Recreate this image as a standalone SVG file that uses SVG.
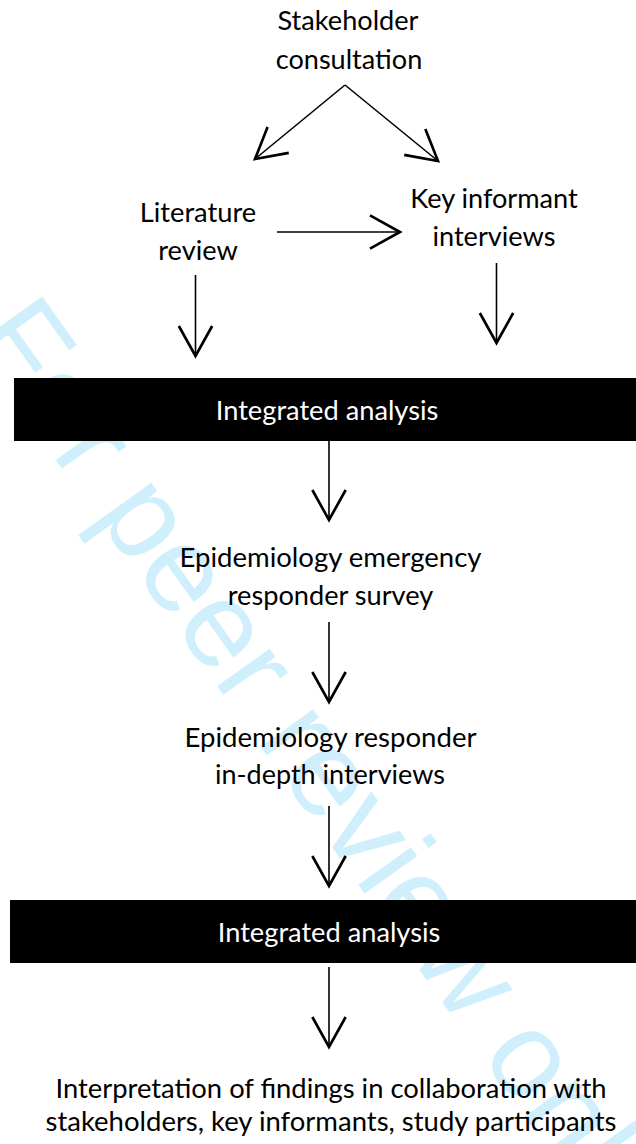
<svg xmlns="http://www.w3.org/2000/svg" width="636" height="1144" viewBox="0 0 636 1144">
<style>
.t{font-family:Lato,"Open Sans","DejaVu Sans",sans-serif;font-size:26.5px;fill:#000;text-anchor:middle}
.w{fill:#fff}
.c line{stroke:#000;stroke-width:1.6;fill:none;marker-end:url(#ah)}
.wm{font-family:"Liberation Sans",Arial,sans-serif;font-size:122px;fill:#d0effc}
</style>
<defs>
<marker id="ah" markerUnits="userSpaceOnUse" markerWidth="40" markerHeight="40" viewBox="-20 -12 22 24" refX="0" refY="0" orient="auto" overflow="visible">
<path d="M-18,-10 L0,0 L-18,10" fill="none" stroke="#000" stroke-width="1.6"/>
</marker>
</defs>
<rect width="636" height="1144" fill="#fff"/>
<text class="wm" transform="translate(-32,337) rotate(54.5)">For peer review only</text>
<g id="stakeholder">
<text class="t" x="348" y="29.5" textLength="141" lengthAdjust="spacingAndGlyphs">Stakeholder</text>
<text class="t" x="349" y="69" textLength="146.5" lengthAdjust="spacingAndGlyphs">consultation</text>
</g>
<g id="literature">
<text class="t" x="198" y="221.5" textLength="116.5" lengthAdjust="spacingAndGlyphs">Literature</text>
<text class="t" x="198" y="260" textLength="79.5" lengthAdjust="spacingAndGlyphs">review</text>
</g>
<g id="keyinformant">
<text class="t" x="494" y="208" textLength="167.5" lengthAdjust="spacingAndGlyphs">Key informant</text>
<text class="t" x="494" y="246" textLength="123" lengthAdjust="spacingAndGlyphs">interviews</text>
</g>
<g id="analysis1">
<rect x="14" y="378" width="622" height="63" fill="#000"/>
<text class="t w" x="327" y="420" textLength="222.5" lengthAdjust="spacingAndGlyphs">Integrated analysis</text>
</g>
<g id="survey">
<text class="t" x="330.5" y="567" textLength="302" lengthAdjust="spacingAndGlyphs">Epidemiology emergency</text>
<text class="t" x="330.5" y="605" textLength="205.5" lengthAdjust="spacingAndGlyphs">responder survey</text>
</g>
<g id="interviews">
<text class="t" x="330.5" y="747" textLength="292" lengthAdjust="spacingAndGlyphs">Epidemiology responder</text>
<text class="t" x="330" y="784" textLength="230" lengthAdjust="spacingAndGlyphs">in-depth interviews</text>
</g>
<g id="analysis2">
<rect x="10" y="900" width="626" height="63" fill="#000"/>
<text class="t w" x="329" y="942" textLength="222.5" lengthAdjust="spacingAndGlyphs">Integrated analysis</text>
</g>
<g id="interpretation">
<text class="t" x="331" y="1098" textLength="551" lengthAdjust="spacingAndGlyphs">Interpretation of findings in collaboration with</text>
<text class="t" x="331" y="1131" textLength="571" lengthAdjust="spacingAndGlyphs">stakeholders, key informants, study participants</text>
</g>
<g id="connectors" class="c">
<line x1="345" y1="85" x2="255" y2="159"/>
<line x1="345" y1="85" x2="438" y2="161"/>
<line x1="277" y1="232" x2="400" y2="232"/>
<line x1="195.5" y1="275" x2="195.5" y2="356"/>
<line x1="496.5" y1="263" x2="496.5" y2="343"/>
<line x1="329" y1="441" x2="329" y2="520"/>
<line x1="329" y1="622" x2="329" y2="702"/>
<line x1="329" y1="806" x2="329" y2="886"/>
<line x1="329" y1="967" x2="329" y2="1047"/>
</g>
</svg>
